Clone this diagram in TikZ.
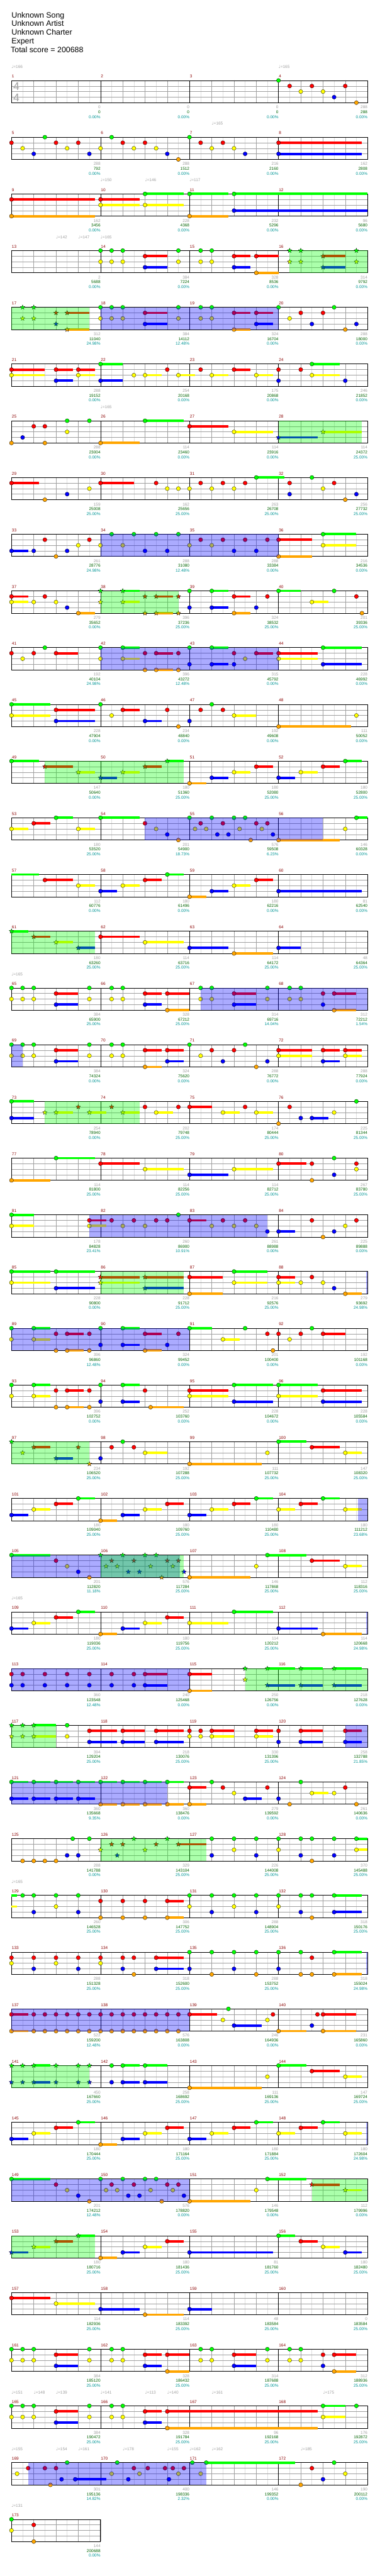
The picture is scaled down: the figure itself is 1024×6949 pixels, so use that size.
\documentclass[tikz,border=0pt]{standalone}
\usepackage{fontspec}
\setmainfont{Liberation Sans}
\newfontfamily\notefont{DejaVu Sans}
\usetikzlibrary{shapes.geometric}

\definecolor{lane0}{RGB}{0,255,0}
\definecolor{lane1}{RGB}{255,0,0}
\definecolor{lane2}{RGB}{255,255,0}
\definecolor{lane3}{RGB}{0,0,255}
\definecolor{lane4}{RGB}{255,165,0}
\definecolor{barnum}{RGB}{139,0,0}
\definecolor{basescore}{RGB}{160,160,160}
\definecolor{totalscore}{RGB}{0,100,0}
\definecolor{squeeze}{RGB}{0,150,150}
\definecolor{halfbeat}{RGB}{222,222,222}
\definecolor{beatline}{RGB}{160,160,160}

\tikzstyle{halfline} = [halfbeat, line width=0.8pt]
\tikzstyle{beat} = [beatline, line width=0.8pt]
\tikzstyle{bar} = [black, line width=0.8pt]
\tikzstyle{frame} = [black, line width=1.2pt]
\tikzstyle{note} = [draw=black, line width=0.5pt]
\tikzstyle{spnote} = [star, star points=5, star point ratio=2.3, draw=black, line width=0.5pt, minimum size=13pt, inner sep=0pt]
\tikzstyle{tail} = [line width=6.5pt]
\tikzstyle{activation} = [fill=blue, opacity=0.33]
\tikzstyle{phrasezone} = [fill=lane0, opacity=0.33]
\tikzstyle{small} = [font=\fontsize{11}{13}\selectfont, inner sep=0pt]
\tikzstyle{tempo} = [small, text=beatline, anchor=base west]
\tikzstyle{title} = [font=\fontsize{21}{23}\selectfont, inner sep=0pt, anchor=base west]
\tikzstyle{sig} = [font=\fontsize{30}{30}\selectfont, text=beatline, inner sep=0pt]

\tikzset{chartline/.style={shift={(31pt,{-217pt-153pt*#1})}, x=15pt, y=-15pt, /utils/exec={\def\rowid{#1}}}}

\newcounter{tempi}
% grid of one line: #1 length in 16ths, #2 bar lines
\newcommand{\lanes}[2]{%
  \foreach \i in {2,4,...,#1} \draw[halfline] (\i,0) -- (\i,4);
  \foreach \i in {4,8,...,#1} \draw[beat] (\i,0) -- (\i,4);
  \foreach \j in {1,2,3} \draw[beat] (0,\j) -- (#1,\j);
  \foreach \i in {#2} \draw[bar] (\i,0) -- (\i,4);
  \draw[frame] (0,0) rectangle (#1,4);
}
\newcommand{\tails}[1]{\foreach \p/\e/\l in {#1} {\draw[tail, lane\l] (\p,\l) -- (\e,\l);}}
\newcommand{\gems}[1]{\foreach \p/\l in {#1} {\filldraw[note, fill=lane\l] (\p,\l) circle (5.5pt);}}
\newcommand{\spstars}[1]{\foreach \p/\l in {#1} {\node[spnote, fill=lane\l] (sp\rowid-\p-\l) at (\p,\l) {};}}
\newcommand{\actzone}[2]{\fill[activation] (#1,0) rectangle (#2,4);}
\newcommand{\spzone}[2]{\fill[phrasezone] (#1,0) rectangle (#2,4);}
\newcommand{\bpm}[2]{\stepcounter{tempi}\node[tempo] (tempo\arabic{tempi}) at ({#1*15pt},33pt) {{\notefont ♩}=#2};}
% #1 bar in line, #2 number, #3 bar score, #4 total, #5 percent
\newcommand{\barinfo}[5]{%
  \node[small, text=barnum, anchor=base west] (m#2) at ({#1*240pt+1pt},7pt) {#2};
  \node[small, text=basescore, anchor=base east] (b#2) at ({#1*240pt+240pt},-76pt) {#3};
  \node[small, text=totalscore, anchor=base east] (t#2) at ({#1*240pt+240pt},-89pt) {#4};
  \node[small, text=squeeze, anchor=base east] (p#2) at ({#1*240pt+240pt},-102pt) {#5\%};
}

\begin{document}
\begin{tikzpicture}
\useasboundingbox (0,0) rectangle (1024pt,-6949pt);
\fill[white] (0,0) rectangle (1024pt,-6949pt);
%header
\node[title] (song) at (31pt,-48pt) {Unknown Song};
\node[title] (artist) at (31pt,-71pt) {Unknown Artist};
\node[title] (charter) at (31pt,-94pt) {Unknown Charter};
\node[title] (diff) at (31pt,-118pt) {Expert};
\node[title] (total) at (29pt,-141pt) {Total score = 200688};

%begin line 1
\begin{scope}[chartline=0]
\lanes{64}{16,32,48}
\gems{48/0,50/1,52/2,54/1,56/2,58/3,60/1,62/4}
\node[sig] (sigtop) at (13pt,-16pt) {4};
\node[sig] (sigbot) at (13pt,-46pt) {4};
\bpm{0}{166} \bpm{48}{165}
\barinfo{0}{1}{0}{0}{0.00} \barinfo{1}{2}{0}{0}{0.00} \barinfo{2}{3}{0}{0}{0.00} \barinfo{3}{4}{288}{288}{0.00}
\end{scope}
%begin line 2
\begin{scope}[chartline=1]
\lanes{64}{16,32,48}
\tails{48/63/1,48/63/3}
\gems{6/0,18/0,32/0,0/1,8/1,12/1,20/1,24/1,34/1,38/1,48/1,2/2,10/2,16/2,22/2,26/2,36/2,40/2,4/3,14/3,28/3,42/3,48/3,30/4}
\bpm{36}{165}
\barinfo{0}{5}{288}{792}{0.00} \barinfo{1}{6}{288}{1512}{0.00} \barinfo{2}{7}{216}{2160}{0.00} \barinfo{3}{8}{162}{2808}{0.00}
\end{scope}
%begin line 3
\begin{scope}[chartline=2]
\lanes{64}{16,32,48}
\tails{24/31/0,32/39/0,40/64/0,0/15/1,16/23/1,16/23/2,24/31/2,40/64/3,0/15/4,32/39/4}
\gems{24/0,32/0,40/0,0/1,16/1,16/2,24/2,40/3,0/4,32/4}
\bpm{16}{150} \bpm{24}{146} \bpm{32}{117}
\barinfo{0}{9}{162}{3456}{0.00} \barinfo{1}{10}{228}{4368}{0.00} \barinfo{2}{11}{232}{5296}{0.00} \barinfo{3}{12}{96}{5680}{0.00}
\end{scope}
%begin line 4
\begin{scope}[chartline=3]
\lanes{64}{16,32,48}
\tails{24/28/1,40/43/1,44/48/1,56/60/1,24/28/3,40/43/3,56/60/3,44/48/4}
\gems{16/0,18/0,20/0,30/0,34/0,36/0,24/1,40/1,44/1,16/2,18/2,20/2,30/2,34/2,36/2,24/3,40/3,44/4}
\spstars{50/0,52/0,62/0,56/1,50/2,52/2,62/2,56/3}
\spzone{50}{64}
\bpm{8}{142} \bpm{12}{147} \bpm{16}{165}
\barinfo{0}{13}{2}{5688}{0.00} \barinfo{1}{14}{384}{7224}{0.00} \barinfo{2}{15}{328}{8536}{0.00} \barinfo{3}{16}{314}{9792}{0.00}
\end{scope}
%begin line 5
\begin{scope}[chartline=4]
\lanes{64}{16,32,48}
\tails{10/14/1,10/14/4,24/28/1,24/28/3,40/43/1,44/47/1,44/47/3,40/43/4}
\gems{16/0,18/0,20/0,30/0,34/0,36/0,48/0,58/0,24/1,40/1,44/1,52/1,56/1,16/2,18/2,20/2,30/2,34/2,36/2,50/2,24/3,44/3,54/3,62/3,40/4,60/4}
\spstars{2/0,4/0,8/1,10/1,2/2,4/2,8/3,10/4}
\spzone{0}{14} \actzone{16}{48}
\barinfo{0}{17}{312}{11040}{24.98} \barinfo{1}{18}{384}{14112}{12.48} \barinfo{2}{19}{324}{16704}{0.00} \barinfo{3}{20}{288}{18000}{0.00}
\end{scope}
%begin line 6
\begin{scope}[chartline=5]
\lanes{64}{16,32,48}
\tails{16/20/0,54/59/0,0/6/1,8/11/1,12/15/1,40/43/1,0/6/2,12/15/2,24/27/2,30/33/2,36/39/2,44/47/2,54/59/2,8/11/3,16/20/3}
\gems{16/0,54/0,0/1,8/1,12/1,28/1,34/1,40/1,48/1,52/1,0/2,12/2,22/2,24/2,30/2,36/2,44/2,54/2,8/3,16/3,48/3,60/3}
\barinfo{0}{21}{288}{19152}{0.00} \barinfo{1}{22}{254}{20168}{0.00} \barinfo{2}{23}{175}{20868}{0.00} \barinfo{3}{24}{246}{21852}{0.00}
\end{scope}
%begin line 7
\begin{scope}[chartline=6]
\lanes{64}{16,32,48}
\tails{24/31/0,32/39/1,40/47/2,56/63/2,48/55/3,16/23/4}
\gems{10/0,14/0,24/0,4/1,6/1,32/1,10/2,40/2,2/3,0/4,6/4,16/4}
\spstars{56/2,48/3}
\spzone{48}{63}
\bpm{16}{165}
\barinfo{0}{25}{288}{23004}{0.00} \barinfo{1}{26}{114}{23460}{0.00} \barinfo{2}{27}{114}{23916}{0.00} \barinfo{3}{28}{114}{24372}{25.00}
\end{scope}
%begin line 8
\begin{scope}[chartline=7]
\lanes{64}{16,32,48}
\tails{44/49/0,0/5/1,16/22/1}
\gems{44/0,54/0,0/1,16/1,26/1,34/1,38/1,42/1,50/1,58/1,14/2,28/2,30/2,32/2,36/2,40/2,56/2,10/3,50/3,62/3,6/4,60/4}
\barinfo{0}{29}{159}{25008}{25.00} \barinfo{1}{30}{162}{25656}{25.00} \barinfo{2}{31}{263}{26708}{25.00} \barinfo{3}{32}{256}{27732}{25.00}
\end{scope}
%begin line 9
\begin{scope}[chartline=8]
\lanes{64}{16,32,48}
\tails{56/62/0,48/54/1,56/62/2,0/3/3,48/54/4}
\gems{18/0,22/0,26/0,30/0,56/0,6/1,14/1,34/1,38/1,42/1,46/1,48/1,12/2,16/2,20/2,32/2,36/2,56/2,0/3,4/3,10/3,24/3,28/3,40/3,44/3,8/4,48/4}
\actzone{16}{48}
\barinfo{0}{33}{261}{28776}{24.98} \barinfo{1}{34}{288}{31080}{12.48} \barinfo{2}{35}{288}{33384}{0.00} \barinfo{3}{36}{216}{34536}{0.00}
\end{scope}
%begin line 10
\begin{scope}[chartline=9]
\lanes{64}{16,32,48}
\tails{20/23/0,36/39/0,48/52/0,0/3/1,26/29/1,40/43/1,0/3/2,20/23/2,54/57/2,36/39/3,12/15/4,26/29/4,40/43/4}
\gems{32/0,36/0,48/0,58/0,0/1,6/1,40/1,46/1,62/1,0/2,4/2,8/2,54/2,10/3,32/3,36/3,44/3,12/4,40/4,63/4}
\spstars{16/0,20/0,24/1,26/1,30/1,16/2,20/2,24/4,26/4,30/4}
\spzone{16}{30}
\barinfo{0}{37}{279}{35652}{0.00} \barinfo{1}{38}{396}{37236}{25.00} \barinfo{2}{39}{324}{38532}{25.00} \barinfo{3}{40}{201}{39336}{25.00}
\end{scope}
%begin line 11
\begin{scope}[chartline=10]
\lanes{64}{16,32,48}
\tails{20/23/0,36/39/0,56/63/0,8/12/1,26/29/1,44/47/1,48/55/1,20/23/2,48/55/2,36/39/3,56/63/3,26/29/4}
\gems{6/0,16/0,20/0,32/0,36/0,56/0,0/1,4/1,8/1,24/1,26/1,30/1,40/1,44/1,48/1,2/2,16/2,20/2,42/2,48/2,32/3,36/3,40/3,56/3,24/4,26/4,30/4}
\actzone{16}{48}
\barinfo{0}{41}{192}{40104}{24.98} \barinfo{1}{42}{396}{43272}{12.48} \barinfo{2}{43}{315}{45792}{0.00} \barinfo{3}{44}{228}{46992}{0.00}
\end{scope}
%begin line 12
\begin{scope}[chartline=11]
\lanes{64}{16,32,48}
\tails{0/7/0,8/15/1,20/23/1,0/7/2,40/44/2,8/15/3,24/27/3,48/61/4}
\gems{0/0,16/0,36/0,8/1,20/1,28/1,34/1,38/1,0/2,18/2,40/2,62/2,8/3,24/3,32/3,30/4,48/4}
\barinfo{0}{45}{228}{47904}{0.00} \barinfo{1}{46}{234}{48840}{0.00} \barinfo{2}{47}{192}{49608}{0.00} \barinfo{3}{48}{111}{50052}{0.00}
\end{scope}
%begin line 13
\begin{scope}[chartline=12]
\lanes{64}{16,32,48}
\tails{0/5/0,28/31/0,60/63/0,6/11/1,24/27/1,44/47/1,56/59/1,12/15/2,20/23/2,40/43/2,52/55/2,16/19/3,36/39/3,48/51/3,32/35/4}
\gems{0/0,60/0,44/1,56/1,40/2,52/2,36/3,48/3,32/4}
\spstars{28/0,6/1,24/1,12/2,20/2,16/3}
\spzone{6}{31}
\barinfo{0}{49}{147}{50640}{0.00} \barinfo{1}{50}{180}{51360}{25.00} \barinfo{2}{51}{180}{52080}{25.00} \barinfo{3}{52}{180}{52800}{25.00}
\end{scope}
%begin line 14
\begin{scope}[chartline=13]
\lanes{64}{16,32,48}
\tails{8/11/0,16/23/0,62/64/0,4/7/1,0/3/2,12/15/2,48/59/4}
\gems{8/0,16/0,32/0,36/0,40/0,42/0,62/0,4/1,24/1,34/1,38/1,44/1,46/1,0/2,12/2,26/2,33/2,35/2,41/2,45/2,60/2,28/3,37/3,39/3,47/3,30/4,43/4,48/4}
\actzone{24}{56}
\barinfo{0}{53}{180}{53520}{25.00} \barinfo{1}{54}{201}{54900}{18.73} \barinfo{2}{55}{576}{59508}{6.23} \barinfo{3}{56}{146}{60328}{0.00}
\end{scope}
%begin line 15
\begin{scope}[chartline=14]
\lanes{64}{16,32,48}
\tails{0/5/0,28/31/0,6/11/1,24/27/1,44/47/1,12/15/2,20/23/2,40/43/2,16/19/3,36/39/3,48/63/3,32/35/4}
\gems{28/0,6/1,24/1,44/1,12/2,20/2,40/2,16/3,36/3,48/3,32/4}
\barinfo{0}{57}{112}{60776}{0.00} \barinfo{1}{58}{180}{61496}{0.00} \barinfo{2}{59}{180}{62216}{0.00} \barinfo{3}{60}{81}{62540}{0.00}
\end{scope}
%begin line 16
\begin{scope}[chartline=15]
\lanes{64}{16,32,48}
\tails{0/3/0,4/7/1,16/23/1,8/11/2,24/31/2,12/15/3,32/39/3,48/52/3,40/47/4}
\gems{16/1,24/2,32/3,48/3,40/4}
\spstars{0/0,4/1,8/2,12/3}
\spzone{0}{15}
\barinfo{0}{61}{180}{63260}{25.00} \barinfo{1}{62}{114}{63716}{25.00} \barinfo{2}{63}{114}{64172}{25.00} \barinfo{3}{64}{48}{64364}{25.00}
\end{scope}
%begin line 17
\begin{scope}[chartline=16]
\lanes{64}{16,32,48}
\tails{8/12/1,24/27/1,28/32/1,40/44/1,58/62/1,8/12/3,24/27/3,40/44/3,28/32/4,58/62/4}
\gems{0/0,2/0,4/0,14/0,18/0,20/0,34/0,36/0,46/0,50/0,52/0,0/2,2/2,4/2,14/2,18/2,20/2,34/2,36/2,46/2,50/2,52/2,8/1,24/1,28/1,40/1,56/1,58/1,8/3,24/3,40/3,56/3,28/4,58/4}
\actzone{34}{64}
\bpm{0}{165}
\barinfo{0}{65}{384}{65900}{25.00} \barinfo{1}{66}{328}{67212}{25.00} \barinfo{2}{67}{314}{69716}{14.04} \barinfo{3}{68}{312}{72212}{1.54}
\end{scope}
%begin line 18
\begin{scope}[chartline=17]
\lanes{64}{16,32,48}
\tails{8/12/1,24/27/1,28/31/1,48/54/1,56/59/1,60/63/1,48/54/2,60/63/2,8/12/3,28/31/3,56/59/3,24/27/4}
\gems{0/0,2/0,4/0,14/0,18/0,20/0,32/0,42/0,8/1,24/1,28/1,36/1,40/1,48/1,56/1,60/1,0/2,2/2,4/2,14/2,18/2,20/2,34/2,48/2,60/2,8/3,28/3,38/3,46/3,56/3,24/4,44/4}
\actzone{0}{2}
\barinfo{0}{69}{384}{74324}{0.00} \barinfo{1}{70}{324}{75620}{0.00} \barinfo{2}{71}{288}{76772}{0.00} \barinfo{3}{72}{288}{77924}{0.00}
\end{scope}
%begin line 19
\begin{scope}[chartline=18]
\lanes{64}{16,32,48}
\tails{0/4/0,32/36/1,8/11/2,14/17/2,20/23/2,26/29/2,38/41/2,44/47/2,0/4/3,54/57/3}
\gems{0/0,62/0,24/1,30/1,32/1,42/1,50/1,26/2,38/2,44/2,58/2,0/3,52/3,54/3,48/4}
\spstars{12/1,18/1,6/2,8/2,14/2,20/2}
\spzone{6}{23}
\barinfo{0}{73}{254}{78940}{0.00} \barinfo{1}{74}{202}{79748}{25.00} \barinfo{2}{75}{174}{80444}{25.00} \barinfo{3}{76}{225}{81344}{25.00}
\end{scope}
%begin line 20
\begin{scope}[chartline=19]
\lanes{64}{16,32,48}
\tails{8/15/0,16/23/1,48/53/1,24/31/2,40/47/2,32/39/3,0/7/4}
\gems{8/0,58/0,16/1,48/1,54/1,62/1,24/2,40/2,62/2,32/3,58/3,0/4,54/4}
\barinfo{0}{77}{114}{81800}{25.00} \barinfo{1}{78}{114}{82256}{25.00} \barinfo{2}{79}{114}{82712}{25.00} \barinfo{3}{80}{267}{83780}{25.00}
\end{scope}
%begin line 21
\begin{scope}[chartline=20]
\lanes{64}{16,32,48}
\tails{0/4/0,14/17/1,32/35/1,0/4/2,14/17/2,48/51/3}
\gems{0/0,30/0,14/1,18/1,22/1,26/1,28/1,32/1,38/1,42/1,54/1,62/1,0/2,14/2,20/2,24/2,36/2,40/2,44/2,60/2,46/3,48/3,58/3,56/4}
\actzone{14}{46}
\barinfo{0}{81}{178}{84828}{23.41} \barinfo{1}{82}{260}{86900}{10.91} \barinfo{2}{83}{261}{88988}{0.00} \barinfo{3}{84}{225}{89888}{0.00}
\end{scope}
%begin line 22
\begin{scope}[chartline=21]
\lanes{64}{16,32,48}
\tails{0/7/0,8/15/0,40/46/0,16/23/1,24/31/1,32/38/1,48/51/1,0/7/2,16/23/2,40/46/2,48/51/2,8/15/3,24/31/3,32/38/4,60/63/4}
\gems{0/0,8/0,40/0,32/1,48/1,54/1,0/2,40/2,48/2,52/2,56/2,8/3,58/3,32/4,60/4}
\spstars{16/1,24/1,16/2,24/3}
\spzone{16}{31} \actzone{63.8}{64}
\barinfo{0}{85}{228}{90800}{0.00} \barinfo{1}{86}{228}{91712}{25.00} \barinfo{2}{87}{216}{92576}{25.00} \barinfo{3}{88}{279}{93692}{24.98}
\end{scope}
%begin line 23
\begin{scope}[chartline=22]
\lanes{64}{16,32,48}
\tails{4/7/0,20/23/0,32/36/0,10/13/1,24/27/1,56/60/1,4/7/2,38/41/2,20/23/3,10/13/4,24/27/4}
\gems{0/0,4/0,16/0,20/0,32/0,42/0,54/0,8/1,10/1,14/1,24/1,30/1,46/1,48/1,52/1,56/1,0/2,4/2,38/2,50/2,16/3,20/3,28/3,8/4,10/4,14/4,24/4,47/4}
\actzone{0}{32}
\barinfo{0}{89}{396}{96860}{12.48} \barinfo{1}{90}{324}{99452}{0.00} \barinfo{2}{91}{201}{100400}{0.00} \barinfo{3}{92}{192}{101168}{0.00}
\end{scope}
%begin line 24
\begin{scope}[chartline=23]
\lanes{64}{16,32,48}
\tails{4/7/0,20/23/0,40/47/0,48/55/0,10/13/1,32/39/1,56/63/1,4/7/2,32/39/2,48/55/2,20/23/3,40/47/3,56/63/3,10/13/4,25/31/4}
\gems{0/0,4/0,16/0,20/0,40/0,48/0,8/1,10/1,14/1,24/1,32/1,56/1,0/2,4/2,32/2,48/2,16/3,20/3,40/3,56/3,8/4,10/4,14/4,25/4}
\barinfo{0}{93}{396}{102752}{0.00} \barinfo{1}{94}{252}{103760}{0.00} \barinfo{2}{95}{228}{104672}{0.00} \barinfo{3}{96}{228}{105584}{0.00}
\end{scope}
%begin line 25
\begin{scope}[chartline=24]
\lanes{64}{16,32,48}
\tails{48/53/0,4/7/1,54/59/1,24/28/2,60/63/2,8/11/3,32/45/4}
\gems{20/0,48/0,18/1,22/1,54/1,24/2,46/2,60/2,16/3,32/4}
\spstars{0/0,4/1,12/1,2/2,8/3,14/4}
\spzone{0}{14}
\barinfo{0}{97}{234}{106520}{25.00} \barinfo{1}{98}{192}{107288}{25.00} \barinfo{2}{99}{111}{107732}{25.00} \barinfo{3}{100}{147}{108320}{25.00}
\end{scope}
%begin line 26
\begin{scope}[chartline=25]
\lanes{64}{16,32,48}
\tails{12/15/0,44/47/0,56/59/0,8/11/1,28/31/1,40/43/1,52/55/1,4/7/2,24/27/2,36/39/2,48/51/2,60/63/2,0/3/3,20/23/3,32/35/3,16/19/4}
\gems{12/0,44/0,56/0,8/1,28/1,40/1,52/1,4/2,24/2,36/2,48/2,60/2,0/3,20/3,32/3,16/4}
\actzone{62.3}{64}
\barinfo{0}{101}{180}{109040}{25.00} \barinfo{1}{102}{180}{109760}{25.00} \barinfo{2}{103}{180}{110480}{25.00} \barinfo{3}{104}{180}{111212}{23.68}
\end{scope}
%begin line 27
\begin{scope}[chartline=26]
\lanes{64}{16,32,48}
\tails{0/7/0,46/53/0,54/59/1,60/63/2,32/43/4}
\gems{0/0,46/0,8/1,54/1,10/2,44/2,60/2,12/3,14/4,32/4}
\spstars{16/0,20/0,24/0,26/0,18/1,22/1,28/1,30/1,17/2,19/2,25/2,29/2,21/3,23/3,31/3,27/4}
\actzone{0}{30.3} \spzone{16}{31}
\barinfo{0}{105}{201}{112820}{11.18} \barinfo{1}{106}{576}{117284}{25.00} \barinfo{2}{107}{146}{117868}{25.00} \barinfo{3}{108}{112}{118316}{25.00}
\end{scope}
%begin line 28
\begin{scope}[chartline=27]
\lanes{64}{16,32,48}
\tails{12/15/0,40/47/0,8/11/1,28/31/1,4/7/2,24/27/2,32/39/2,0/3/3,20/23/3,48/55/3,16/19/4,56/63/4}
\gems{12/0,40/0,8/1,28/1,4/2,24/2,32/2,0/3,20/3,48/3,16/4,56/4}
\actzone{63.8}{64}
\bpm{0}{165}
\barinfo{0}{109}{180}{119036}{25.00} \barinfo{1}{110}{180}{119756}{25.00} \barinfo{2}{111}{114}{120212}{25.00} \barinfo{3}{112}{114}{120668}{24.98}
\end{scope}
%begin line 29
\begin{scope}[chartline=28]
\lanes{64}{16,32,48}
\tails{24/28/1,32/36/1,24/28/3,32/36/4,46/51/0,52/56/0,58/63/0,46/51/3,52/56/3,58/63/3}
\gems{0/1,2/1,6/1,10/1,14/1,18/1,22/1,24/1,32/1,0/3,2/3,6/3,10/3,14/3,18/3,22/3,24/3,32/4}
\spstars{42/0,46/0,52/0,58/0,42/2,46/3,52/3,58/3}
\actzone{0}{32} \spzone{42}{64}
\barinfo{0}{113}{360}{123548}{12.48} \barinfo{1}{114}{240}{125468}{0.00} \barinfo{2}{115}{250}{126756}{0.00} \barinfo{3}{116}{218}{127628}{0.00}
\end{scope}
%begin line 30
\begin{scope}[chartline=29]
\lanes{64}{16,32,48}
\tails{4/8/0,4/8/2,14/19/1,20/24/1,26/31/1,36/40/1,44/47/1,52/56/1,60/63/1,36/40/2,44/47/2,14/19/3,20/24/3,26/31/3,52/56/3,60/63/3}
\gems{10/0,10/2,32/2,34/2,36/2,44/2,14/1,20/1,26/1,32/1,34/1,36/1,44/1,48/1,52/1,60/1,14/3,20/3,26/3,48/3,52/3,60/3}
\spstars{0/0,2/0,4/0,0/2,2/2,4/2}
\spzone{0}{8} \actzone{60}{64}
\barinfo{0}{117}{394}{129204}{25.00} \barinfo{1}{118}{218}{130076}{25.00} \barinfo{2}{119}{330}{131396}{25.00} \barinfo{3}{120}{258}{132788}{21.85}
\end{scope}
%begin line 31
\begin{scope}[chartline=30]
\lanes{64}{16,32,48}
\tails{0/3/0,4/7/0,8/11/0,12/15/0,16/19/0,20/23/0,24/27/0,28/31/0,32/35/1,54/57/2,0/3/3,4/7/3,8/11/3,12/15/3,42/45/3,16/19/4,20/23/4,24/27/4,28/31/4,32/35/4}
\gems{0/0,4/0,8/0,12/0,16/0,20/0,24/0,28/0,36/0,52/0,32/1,38/1,46/1,60/1,40/2,54/2,58/2,0/3,4/3,8/3,12/3,42/3,48/3,16/4,20/4,24/4,28/4,32/4,50/4,62/4}
\actzone{0}{28}
\barinfo{0}{121}{360}{135668}{9.35} \barinfo{1}{122}{360}{138476}{0.00} \barinfo{2}{123}{279}{139592}{0.00} \barinfo{3}{124}{261}{140636}{0.00}
\end{scope}
%begin line 32
\begin{scope}[chartline=31]
\lanes{64}{16,32,48}
\tails{30/35/1,62/64/0,62/64/2}
\gems{11/0,14/0,36/0,40/0,44/0,48/0,52/0,54/0,58/0,62/0,40/2,48/2,62/2,10/3,12/3,36/3,44/3,52/3,58/3,2/4,4/4,6/4,8/4,54/4}
\spstars{22/0,28/0,18/1,20/1,26/1,30/1,16/2,24/2,19/3}
\spzone{16}{35}
\barinfo{0}{125}{288}{141788}{0.00} \barinfo{1}{126}{329}{143104}{25.00} \barinfo{2}{127}{226}{144008}{25.00} \barinfo{3}{128}{370}{145488}{25.00}
\end{scope}
%begin line 33
\begin{scope}[chartline=32]
\lanes{64}{16,32,48}
\tails{0/1/0,0/1/2,58/63/0,28/31/1,58/63/3,28/31/4}
\gems{2/0,4/0,8/0,12/0,32/0,36/0,40/0,44/0,48/0,52/0,54/0,58/0,8/2,32/2,40/2,48/2,16/1,20/1,24/1,28/1,4/3,12/3,36/3,44/3,52/3,58/3,16/4,20/4,24/4,28/4,54/4}
\bpm{0}{165}
\barinfo{0}{129}{260}{146528}{25.00} \barinfo{1}{130}{306}{147752}{25.00} \barinfo{2}{131}{288}{148904}{25.00} \barinfo{3}{132}{318}{150176}{25.00}
\end{scope}
%begin line 34
\begin{scope}[chartline=33]
\lanes{64}{16,32,48}
\tails{26/31/1,26/31/3,58/63/0,58/63/4}
\gems{0/1,4/1,8/1,12/1,16/1,20/1,22/1,26/1,54/1,0/2,8/2,16/2,4/3,12/3,20/3,26/3,32/3,40/3,48/3,32/0,36/0,40/0,44/0,48/0,52/0,58/0,22/4,36/4,44/4,52/4,54/4,58/4}
\actzone{63.8}{64}
\barinfo{0}{133}{288}{151328}{25.00} \barinfo{1}{134}{318}{152600}{25.00} \barinfo{2}{135}{288}{153752}{25.00} \barinfo{3}{136}{318}{155024}{24.98}
\end{scope}
%begin line 35
\begin{scope}[chartline=34]
\lanes{64}{16,32,48}
\tails{0/3/1,32/37/1,56/62/1,0/3/4,48/53/4,56/62/4,40/45/3}
\gems{0/1,4/1,6/1,8/1,10/1,12/1,14/1,16/1,18/1,20/1,22/1,24/1,26/1,28/1,30/1,32/1,47/1,55/1,56/1,0/4,4/4,6/4,8/4,10/4,12/4,14/4,16/4,18/4,20/4,22/4,24/4,26/4,28/4,30/4,48/4,56/4,39/0,38/2,46/2,40/3,54/3}
\actzone{0}{32}
\barinfo{0}{137}{522}{159200}{12.48} \barinfo{1}{138}{576}{163808}{0.00} \barinfo{2}{139}{246}{164936}{0.00} \barinfo{3}{140}{231}{165860}{0.00}
\end{scope}
%begin line 36
\begin{scope}[chartline=35]
\lanes{64}{16,32,48}
\tails{4/7/0,4/7/3,20/23/0,24/28/0,20/23/3,24/28/3,48/53/0,32/45/4,60/63/2,54/59/1}
\gems{18/0,20/0,24/0,48/0,18/3,20/3,24/3,32/4,46/2,60/2,54/1}
\spstars{0/0,2/0,4/0,8/0,12/0,14/0,0/3,2/3,4/3,8/3,12/3,14/3}
\spzone{0}{14}
\barinfo{0}{141}{450}{167660}{25.00} \barinfo{1}{142}{258}{168692}{25.00} \barinfo{2}{143}{111}{169136}{25.00} \barinfo{3}{144}{147}{169724}{25.00}
\end{scope}
%begin line 37
\begin{scope}[chartline=36]
\lanes{64}{16,32,48}
\tails{12/15/0,44/47/0,56/59/0,8/11/1,28/31/1,40/43/1,52/55/1,4/7/2,24/27/2,36/39/2,48/51/2,60/63/2,0/3/3,20/23/3,32/35/3,16/19/4}
\gems{12/0,44/0,56/0,8/1,28/1,40/1,52/1,4/2,24/2,36/2,48/2,60/2,0/3,20/3,32/3,16/4}
\actzone{63.8}{64}
\barinfo{0}{145}{180}{170444}{25.00} \barinfo{1}{146}{180}{171164}{25.00} \barinfo{2}{147}{180}{171884}{25.00} \barinfo{3}{148}{180}{172604}{24.98}
\end{scope}
%begin line 38
\begin{scope}[chartline=37]
\lanes{64}{16,32,48}
\tails{0/7/0,46/53/0,54/59/1,60/63/2,32/43/4}
\gems{0/0,16/0,20/0,24/0,26/0,46/0,8/1,18/1,22/1,28/1,30/1,10/2,17/2,19/2,25/2,29/2,44/2,12/3,21/3,23/3,31/3,14/4,27/4,32/4}
\spstars{54/1,60/2}
\actzone{0}{32} \spzone{54}{64}
\barinfo{0}{149}{201}{174212}{12.48} \barinfo{1}{150}{576}{178820}{0.00} \barinfo{2}{151}{146}{179548}{0.00} \barinfo{3}{152}{112}{179996}{0.00}
\end{scope}
%begin line 39
\begin{scope}[chartline=38]
\lanes{64}{16,32,48}
\tails{12/15/0,48/51/0,8/11/1,28/31/1,52/55/1,4/7/2,24/27/2,56/59/2,0/3/3,20/23/3,32/47/3,60/63/3,16/19/4}
\gems{48/0,28/1,52/1,24/2,56/2,20/3,32/3,60/3,16/4}
\spstars{12/0,8/1,4/2,0/3}
\spzone{0}{15}
\barinfo{0}{153}{180}{180716}{25.00} \barinfo{1}{154}{180}{181436}{25.00} \barinfo{2}{155}{81}{181760}{25.00} \barinfo{3}{156}{180}{182480}{25.00}
\end{scope}
%begin line 40
\begin{scope}[chartline=39]
\lanes{64}{16,32,48}
\tails{0/7/1,8/15/2,16/23/3,32/36/3,24/31/4}
\gems{0/1,8/2,16/3,32/3,24/4}
\barinfo{0}{157}{114}{182936}{25.00} \barinfo{1}{158}{114}{183392}{25.00} \barinfo{2}{159}{48}{183584}{25.00} \barinfo{3}{160}{0}{183584}{25.00}
\end{scope}
%begin line 41
\begin{scope}[chartline=40]
\lanes{64}{16,32,48}
\tails{8/12/1,24/27/1,28/32/1,40/44/1,58/62/1,8/12/3,24/27/3,40/44/3,28/32/4,58/62/4}
\gems{0/0,2/0,4/0,14/0,18/0,20/0,34/0,36/0,46/0,50/0,52/0,0/2,2/2,4/2,14/2,18/2,20/2,34/2,36/2,46/2,50/2,52/2,8/1,24/1,28/1,40/1,56/1,58/1,8/3,24/3,40/3,56/3,28/4,58/4}
\barinfo{0}{161}{384}{185120}{25.00} \barinfo{1}{162}{328}{186432}{25.00} \barinfo{2}{163}{314}{187688}{25.00} \barinfo{3}{164}{312}{188936}{25.00}
\end{scope}
%begin line 42
\begin{scope}[chartline=41]
\lanes{64}{16,32,48}
\tails{8/12/1,24/27/1,28/55/1,8/12/3,24/27/3,28/55/4,56/60/0,56/60/2}
\gems{0/0,2/0,4/0,14/0,18/0,20/0,56/0,62/0,0/2,2/2,4/2,14/2,18/2,20/2,56/2,8/1,24/1,28/1,8/3,24/3,28/4}
\bpm{0}{151} \bpm{4}{148} \bpm{8}{139} \bpm{16}{141} \bpm{24}{113} \bpm{28}{140} \bpm{36}{161} \bpm{56}{175}
\barinfo{0}{165}{384}{190472}{25.00} \barinfo{1}{166}{328}{191784}{25.00} \barinfo{2}{167}{96}{192168}{25.00} \barinfo{3}{168}{176}{192872}{25.00}
\end{scope}
%begin line 43
\begin{scope}[chartline=42]
\lanes{64}{16,32,48}
\tails{35/51/0,11.45/17/3}
\gems{10/0,19/0,32.5/0,35/0,58/0,3/1,6/1,8/1,22/1,24.5/1,27.6/1,29/1,31/1,54/1,1/2,18/2,23/2,30/2,34/2,60/2,9/3,11.45/3,21/3,28.3/3,56/3,7/4,52/4}
\actzone{3}{35}
\bpm{0}{155} \bpm{8}{154} \bpm{12}{161} \bpm{20}{178} \bpm{28}{155} \bpm{32}{162} \bpm{36}{162} \bpm{52}{185}
\barinfo{0}{169}{301}{195136}{14.82} \barinfo{1}{170}{400}{198336}{2.32} \barinfo{2}{171}{146}{199352}{0.00} \barinfo{3}{172}{190}{200112}{0.00}
\end{scope}
%begin line 44
\begin{scope}[chartline=43]
\lanes{16}{0}
\gems{0/0,4/1,0/2,4/4}
\bpm{0}{131}
\barinfo{0}{173}{144}{200688}{0.00}
\end{scope}
\end{tikzpicture}
\end{document}
